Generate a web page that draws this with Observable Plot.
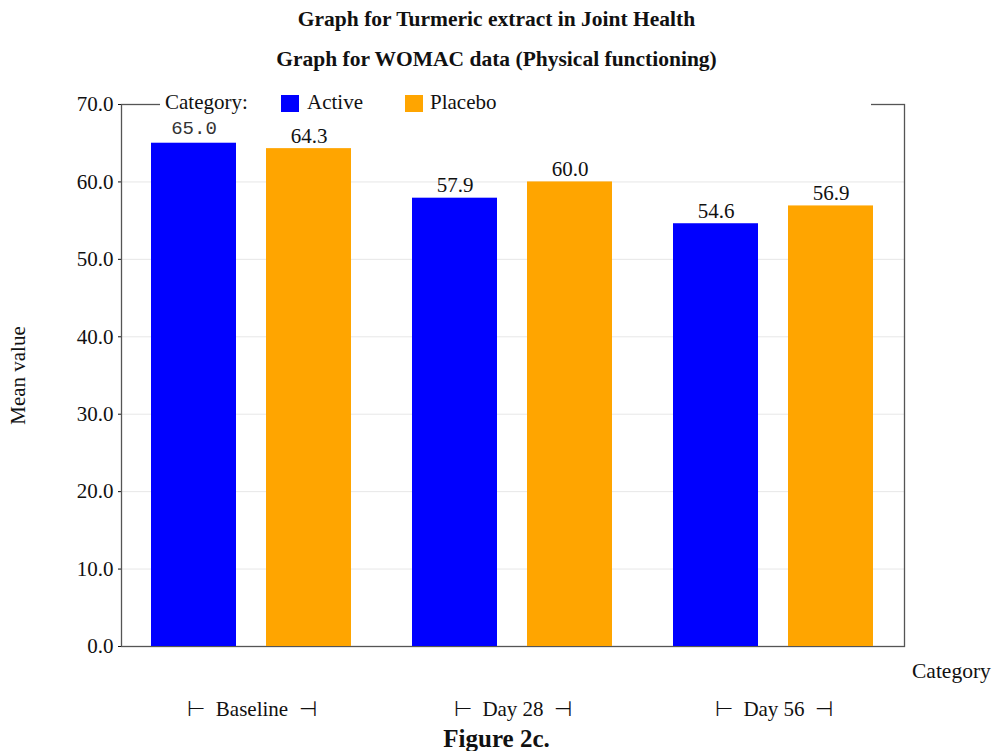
<!DOCTYPE html>
<html>
<head>
<meta charset="utf-8">
<script src="https://cdn.jsdelivr.net/npm/d3@7"></script>
<script src="https://cdn.jsdelivr.net/npm/@observablehq/plot@0.6"></script>
<style>
  html, body { margin: 0; padding: 0; background: #fff; }
  #wrap { position: relative; width: 993px; height: 751px; font-family: "Liberation Serif", "Times New Roman", serif; color: #111; }
  .abs { position: absolute; white-space: nowrap; }
  .title { left: 0; width: 993px; text-align: center; font-weight: bold; font-size: 21.5px; }
  #legend { left: 160px; top: 90px; width: 711px; height: 28px; background: #fff; font-size: 21px; }
  #legend span { position: absolute; top: 0; }
  .sw { width: 18px; height: 17px; top: 5px !important; }
</style>
</head>
<body>
<div id="wrap">
  <div id="chart" class="abs" style="left:0;top:0"></div>
  <div class="abs title" style="top:7px">Graph for Turmeric extract in Joint Health</div>
  <div class="abs title" style="top:47px">Graph for WOMAC data (Physical functioning)</div>
  <div id="legend" class="abs"></div>
  <div class="abs" style="left:912px;top:659px;font-size:21.5px">Category</div>
  <div class="abs" style="left:0;width:993px;text-align:center;top:726px;font-size:25px;line-height:1;font-weight:bold">Figure 2c.</div>
</div>
<script>
const days = ["Baseline", "Day 28", "Day 56"];
const seriesNames = ["Active", "Placebo"];
const activeValues = [65.0, 57.9, 54.6];
const placeboValues = [64.3, 60.0, 56.9];
const yTicks = [0, 10, 20, 30, 40, 50, 60, 70];
const colors = ["#0000ff", "#ffa500"];

const data = [];
days.forEach((d, i) => {
  data.push({day: d, series: seriesNames[0], value: activeValues[i]});
  data.push({day: d, series: seriesNames[1], value: placeboValues[i]});
});

const isFirst = d => d.day === days[0] && d.series === seriesNames[0];

const chart = Plot.plot({
  width: 993,
  height: 751,
  marginTop: 104,
  marginLeft: 120,
  marginRight: 88,
  marginBottom: 105,
  style: {fontFamily: "'Liberation Serif', 'Times New Roman', serif", fontSize: "21px", color: "#111", background: "transparent"},
  fx: {domain: days, padding: 0, label: null, tickSize: 0, tickPadding: 55, tickFormat: d => `⊢  ${d}  ⊣`},
  x: {domain: seriesNames, padding: 0.26, axis: null},
  y: {domain: [0, 70], ticks: yTicks, tickFormat: d => d.toFixed(1), grid: true, label: "Mean value", labelAnchor: "center", labelArrow: "none", labelOffset: 111, tickSize: 3, tickPadding: 5},
  color: {domain: seriesNames, range: colors},
  marks: [
    Plot.frame({facet: "super", stroke: "#555", strokeWidth: 1.3}),
    Plot.barY(data, {fx: "day", x: "series", y: "value", fill: "series"}),
    Plot.text(data, {fx: "day", x: "series", y: "value", text: d => d.value.toFixed(1), filter: d => !isFirst(d), lineAnchor: "bottom", dy: -6, fontSize: 21, fill: "#111"}),
    Plot.text(data, {fx: "day", x: "series", y: "value", text: d => d.value.toFixed(1), filter: isFirst, lineAnchor: "bottom", dy: -9, fontSize: 19, fontFamily: "'Liberation Mono', monospace", fill: "#333"})
  ]
});
document.getElementById("chart").appendChild(chart);

const legend = document.getElementById("legend");
const parts = [["Category:", 5, null], ["", 121, colors[0]], [seriesNames[0], 147, null], ["", 245, colors[1]], [seriesNames[1], 270, null]];
for (const [t, x, c] of parts) {
  const s = document.createElement("span");
  s.style.left = x + "px";
  if (c) { s.className = "sw"; s.style.background = c; } else { s.textContent = t; }
  legend.appendChild(s);
}
</script>
</body>
</html>
